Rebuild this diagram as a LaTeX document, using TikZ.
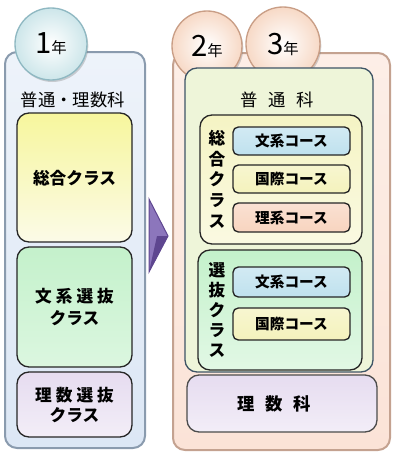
\documentclass[tikz,border=0pt]{standalone}
\usepackage{fontspec}
\setmainfont{Noto Sans CJK JP}
\usetikzlibrary{shadows}

\definecolor{leftPanel}{HTML}{DCE7F5}
\definecolor{leftEdge}{HTML}{8A9BAE}
\definecolor{ballBlue}{HTML}{CDE6EA}
\definecolor{ballBlueEdge}{HTML}{8FB8C2}
\definecolor{rightPanel}{HTML}{FBE3D7}
\definecolor{rightEdge}{HTML}{C4A290}
\definecolor{ballPeach}{HTML}{F7D9C6}
\definecolor{ballPeachEdge}{HTML}{C99E86}
\definecolor{futsuFill}{HTML}{EEF5D9}
\definecolor{futsuEdge}{HTML}{3E5466}
\definecolor{sogoFill}{HTML}{F5F4C4}
\definecolor{senbatsuFill}{HTML}{C4F1CB}
\definecolor{risuFill}{HTML}{E6DCF0}
\definecolor{bunkeiFill}{HTML}{BFE1EE}
\definecolor{kokusaiFill}{HTML}{F4F2BC}
\definecolor{rikeiFill}{HTML}{F8D4BF}
\definecolor{arrowFill}{HTML}{8C76BC}
\definecolor{arrowDark}{HTML}{5E4690}

\tikzset{every picture/.style={line width=0.75pt}}
\tikzset{
  panel/.style={rounded corners=9pt, line width=1.5pt},
  ball/.style={line width=1pt, drop shadow={shadow xshift=1pt, shadow yshift=-1.5pt, opacity=0.35}},
  classbox/.style={draw=black!85, rounded corners=9pt, line width=1pt},
  coursebox/.style={draw=black!85, rounded corners=4pt, line width=1pt},
  lbl/.style={inner sep=0.75pt, font=\bfseries\fontsize{12.5}{16}\selectfont, align=center},
  courselbl/.style={inner sep=0.75pt, font=\bfseries\fontsize{11}{13}\selectfont},
  vlbl/.style={inner sep=0.75pt, font=\bfseries\fontsize{12.5}{15.5}\selectfont, align=center},
  titlelbl/.style={inner sep=0.75pt, font=\fontsize{13}{15}\selectfont},
}
\newcommand{\nen}[1]{{\fontsize{22}{22}\selectfont #1}{\fontsize{11.5}{12}\selectfont 年}}

\begin{document}
\begin{tikzpicture}[x=0.75pt,y=0.75pt,yscale=-1,xscale=1]
    \useasboundingbox (0,0) rectangle (400,464);

    %Rounded Rect left panel
    \draw [panel, draw=leftEdge, top color=white!50!leftPanel, bottom color=leftPanel] (5,52) rectangle (145,448) ;
    %Circle
    \draw [ball, draw=ballBlueEdge, inner color=white, outer color=ballBlue] (51,44) circle [radius=36] ;
    %Rounded Rect
    \draw [classbox, top color=sogoFill!80!yellow, bottom color=white!60!sogoFill] (17,113) rectangle (132,242) ;
    %Rounded Rect
    \draw [classbox, top color=senbatsuFill, bottom color=white!40!senbatsuFill] (17,247) rectangle (132,367) ;
    %Rounded Rect
    \draw [classbox, top color=risuFill, bottom color=white!50!risuFill] (17,372) rectangle (132,437) ;

    %Shape: Triangle
    \draw [draw=arrowDark, fill=arrowFill] (149,199) -- (168,236) -- (149,272) -- cycle ;
    \fill [arrowDark] (149,272) -- (168,236) -- (157,236) -- cycle ;

    %Rounded Rect right panel
    \draw [panel, draw=rightEdge, top color=white!40!rightPanel, bottom color=rightPanel] (173,53) rectangle (390,450) ;
    %Circle
    \draw [ball, draw=ballPeachEdge, inner color=white, outer color=ballPeach] (207,46) circle [radius=35] ;
    %Circle
    \draw [ball, draw=ballPeachEdge, inner color=white, outer color=ballPeach] (283,44) circle [radius=37] ;
    %Rounded Rect
    \draw [classbox, draw=futsuEdge, fill=futsuFill] (185,68) rectangle (373,372) ;
    %Rounded Rect
    \draw [classbox, top color=sogoFill, bottom color=white!50!sogoFill] (200,115) rectangle (362,244) ;
    %Rounded Rect
    \draw [classbox, top color=senbatsuFill, bottom color=white!50!senbatsuFill] (198,250) rectangle (362,370) ;
    %Rounded Rect
    \draw [coursebox, top color=white!30!bunkeiFill, bottom color=bunkeiFill] (233,127) rectangle (350,155) ;
    %Rounded Rect
    \draw [coursebox, top color=white!30!kokusaiFill, bottom color=kokusaiFill] (233,165) rectangle (350,193) ;
    %Rounded Rect
    \draw [coursebox, top color=white!30!rikeiFill, bottom color=rikeiFill] (233,203) rectangle (350,232) ;
    %Rounded Rect
    \draw [coursebox, top color=white!30!bunkeiFill, bottom color=bunkeiFill] (233,267) rectangle (350,297) ;
    %Rounded Rect
    \draw [coursebox, top color=white!30!kokusaiFill, bottom color=kokusaiFill] (233,308) rectangle (350,340) ;
    %Rounded Rect
    \draw [classbox, draw=black!70, top color=risuFill, bottom color=white!50!risuFill] (187,375) rectangle (377,432) ;

    % Text Node
    \node [inner sep=0.75pt] (year1) at (51,44) {\nen{1}};
    % Text Node
    \node [titlelbl] (leftTitle) at (73,100) {普通・理数科};
    % Text Node
    \node [lbl] (sogoA) at (74.5,178) {総合クラス};
    % Text Node
    \node [lbl] (bunkeiA) at (74.5,307) {文\hspace{3pt}系\hspace{3pt}選\hspace{3pt}抜\\クラス};
    % Text Node
    \node [lbl, font=\bfseries\fontsize{12.5}{15}\selectfont] (risuA) at (74.5,405) {理\hspace{3pt}数\hspace{3pt}選\hspace{3pt}抜\\クラス};

    % Text Node
    \node [inner sep=0.75pt] (year2) at (207,46) {\nen{2}};
    % Text Node
    \node [inner sep=0.75pt] (year3) at (283,44) {\nen{3}};
    % Text Node
    \node [titlelbl] (futsu) at (277,100) {普\hspace{8pt}通\hspace{8pt}科};
    % Text Node
    \node [vlbl] (sogoB) at (217,179) {総\\合\\ク\\ラ\\ス};
    % Text Node
    \node [vlbl, font=\bfseries\fontsize{12.5}{15}\selectfont] (senbatsuB) at (217,310) {選\\抜\\ク\\ラ\\ス};
    % Text Node
    \node [courselbl] (bunkeiB) at (291.5,141) {文系コース};
    % Text Node
    \node [courselbl] (kokusaiB) at (291.5,179) {国際コース};
    % Text Node
    \node [courselbl] (rikeiB) at (291.5,217.5) {理系コース};
    % Text Node
    \node [courselbl] (bunkeiC) at (291.5,282) {文系コース};
    % Text Node
    \node [courselbl] (kokusaiC) at (291.5,324) {国際コース};
    % Text Node
    \node [titlelbl, font=\bfseries\fontsize{13}{15}\selectfont] (risuB) at (274,404) {理\hspace{8pt}数\hspace{8pt}科};

\end{tikzpicture}
\end{document}
